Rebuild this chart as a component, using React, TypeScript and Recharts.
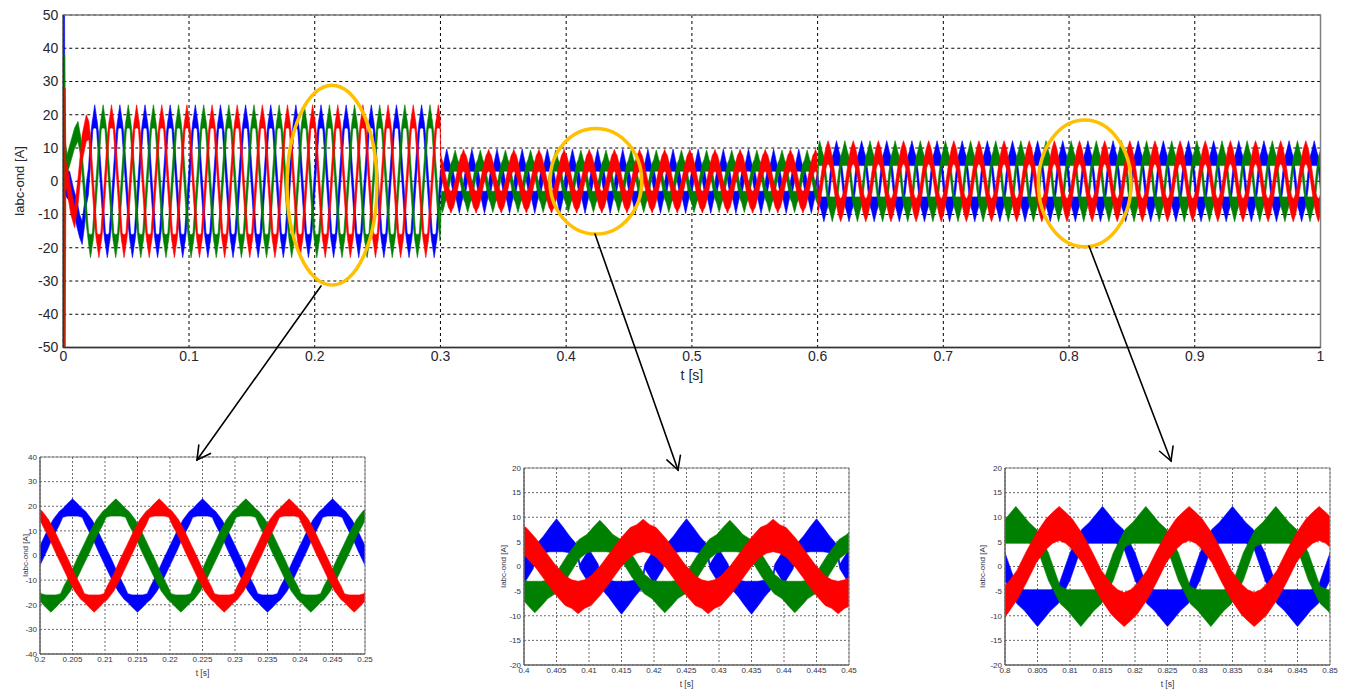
import React from 'react';
import { ComposedChart, Area, XAxis, YAxis, CartesianGrid, ReferenceArea } from 'recharts';

const BLUE = '#0000FF';
const GREEN = '#008000';
const RED = '#FF0000';
const ORANGE = '#FFC000';

// ---- Waveform shapes: one 20 ms cycle, [low, high] band edges (A) ----
// Window 1 (0.02–0.3 s): all three phases share this shape (peak at 5 ms)
const W1_T = [0, 1, 2, 3, 3.5, 4.2, 5, 5.8, 6.5, 7, 8, 9, 10, 11, 12, 13, 13.5, 14.2, 15, 15.8, 16.5, 17, 18, 19];
const W1_LO = [-4, 1.5, 7.5, 12.5, 15.5, 16, 16, 16, 15.5, 12.5, 7.5, 1.5, -4, -9.5, -14.5, -18, -19, -21, -23, -21, -19, -18, -14.5, -9.5];
const W1_HI = [4, 9.5, 14.5, 18, 19, 21, 23, 21, 19, 18, 14.5, 9.5, 4, -1.5, -7.5, -12.5, -15.5, -16, -16, -16, -15.5, -12.5, -7.5, -1.5];

// Window 2 (0.3–0.6 s)
const W2B_T = [0, 1.4, 1.9, 3, 4, 5, 6, 7, 8.1, 8.6, 10, 11.4, 11.9, 13, 14, 15, 16, 17, 18.1, 18.6];
const W2B_LO = [-3.5, -0.5, 2.8, 2.8, 3, 3, 3, 2.8, 2.8, -0.5, -3.5, -0.5, -4.5, -6.2, -8, -9.7, -8, -6.2, -4.5, -0.5];
const W2B_HI = [3.5, 0.5, 4.5, 6.2, 8, 9.7, 8, 6.2, 4.5, 0.5, 3.5, 0.5, -2.8, -2.8, -3, -3, -3, -2.8, -2.8, 0.5];

const W2G_T = [0, 1.8, 3, 4, 5, 6, 7, 8.2, 10, 11.8, 13, 14, 15, 16, 17, 18.2];
const W2G_LO = [-2.3, 1.5, 2.8, 3, 3, 3, 2.8, 1.5, -2.3, -5.5, -6.5, -8, -9.4, -8, -6.5, -5.5];
const W2G_HI = [2.3, 5.5, 6.5, 8, 9.4, 8, 6.5, 5.5, 2.3, -1.5, -2.8, -3, -3, -3, -2.8, -1.5];

const W2R_T = [0, 1.5, 3, 4, 5, 6, 7, 8.5, 10, 11.5, 13, 14, 15, 16, 17, 18.5];
const W2R_LO = [-3, -0.3, 1.9, 2.7, 3, 2.7, 1.9, -0.3, -3, -5.7, -7.9, -8.5, -9.6, -8.5, -7.9, -5.7];
const W2R_HI = [3, 5.7, 7.9, 8.5, 9.6, 8.5, 7.9, 5.7, 3, 0.3, -1.9, -2.7, -3, -2.7, -1.9, 0.3];

// Window 3 (0.6–1 s)
const W3B_T = [0, 1.8, 3, 4, 5, 6, 7, 8.2, 10, 11.8, 13, 14, 15, 16, 17, 18.2];
const W3B_LO = [-2.8, 4, 4.7, 4.7, 4.7, 4.7, 4.7, 4, -2.8, -7.5, -9, -10.6, -12.2, -10.6, -9, -7.5];
const W3B_HI = [2.8, 7.5, 9, 10.6, 12.2, 10.6, 9, 7.5, 2.8, -4, -4.7, -4.7, -4.7, -4.7, -4.7, -4];

const W3R_T = [0, 1.5, 3, 4, 5, 6, 7, 8.5, 10, 11.5, 13, 14, 15, 16, 17, 18.5];
const W3R_LO = [-3.2, 0.8, 3.5, 4.7, 5.3, 4.7, 3.5, 0.8, -3.2, -6.8, -9.7, -11, -12.2, -11, -9.7, -6.8];
const W3R_HI = [3.2, 6.8, 9.7, 11, 12.2, 11, 9.7, 6.8, 3.2, -0.8, -3.5, -4.7, -5.3, -4.7, -3.5, -0.8];

// Phase positions of each shape inside the 20 ms cycle (ms), read from the peak times
const OFFSET_W1 = [0, 6.667, 13.333];
const OFFSET_W2 = [0, 6.667, 13.333];
const OFFSET_W3 = [10, 16.667, 3.333];

// Start-up transient 0–20 ms
const A_START_T = [0.2, 1.0, 1.4, 3, 5, 8, 11, 13, 15, 17, 18.5];
const A_START_LO = [-4, -4, -4, -5, -6, -9, -14, -17, -19, -13, -7];
const A_START_HI = [50, 50, 4, 3, 3, -2, -6, -10, -12, -6, 0];
const B_START_T = [0.4, 1.2, 1.6, 3, 6, 9, 11.7, 14, 16, 18];
const B_START_LO = [-50, -50, 3, 2, 6, 10, 12, 7, -3, -12];
const B_START_HI = [38, 38, 12, 8, 12, 16, 18, 13, 4, -5];
const C_START_T = [0.8, 1.6, 2.0, 3, 6, 9, 12, 15, 18.3];
const C_START_LO = [-50, -50, -2, -3, -10, -14, -6, 6, 12];
const C_START_HI = [28, 28, 6, 5, -2, -8, 2, 14, 20];

// Segment limits (ms)
const SEG_EDGES = [20, 300, 600, 1000];

// Axis ticks
const MAIN_X_TICKS = [0, 0.1, 0.2, 0.3, 0.4, 0.5, 0.6, 0.7, 0.8, 0.9, 1];
const MAIN_Y_TICKS = [-50, -40, -30, -20, -10, 0, 10, 20, 30, 40, 50];
const Z1_X_TICKS = [0.2, 0.205, 0.21, 0.215, 0.22, 0.225, 0.23, 0.235, 0.24, 0.245, 0.25];
const Z1_Y_TICKS = [-40, -30, -20, -10, 0, 10, 20, 30, 40];
const Z2_X_TICKS = [0.4, 0.405, 0.41, 0.415, 0.42, 0.425, 0.43, 0.435, 0.44, 0.445, 0.45];
const Z3_X_TICKS = [0.8, 0.805, 0.81, 0.815, 0.82, 0.825, 0.83, 0.835, 0.84, 0.845, 0.85];
const Z23_Y_TICKS = [-20, -15, -10, -5, 0, 5, 10, 15, 20];

// Annotations
const ELLIPSES = [
  { x1: 0.178, x2: 0.2495, y1: -31.2, y2: 28.9 },
  { x1: 0.3871, x2: 0.4601, y1: -15.9, y2: 15.9 },
  { x1: 0.7756, x2: 0.8493, y1: -19.7, y2: 18.4 },
];
const ARROWS = [
  { x1: 321, y1: 286, x2: 197, y2: 460 },
  { x1: 595, y1: 234, x2: 678, y2: 470 },
  { x1: 1089, y1: 246, x2: 1171, y2: 461 },
];

type Pt = { t: number; v: [number, number] };
type Shape = { T: number[]; LO: number[]; HI: number[] };

const SHAPES_W1: Shape[] = [0, 1, 2].map(() => ({ T: W1_T, LO: W1_LO, HI: W1_HI }));
const SHAPES_W2: Shape[] = [
  { T: W2B_T, LO: W2B_LO, HI: W2B_HI },
  { T: W2G_T, LO: W2G_LO, HI: W2G_HI },
  { T: W2R_T, LO: W2R_LO, HI: W2R_HI },
];
const SHAPES_W3: Shape[] = [
  { T: W3B_T, LO: W3B_LO, HI: W3B_HI },
  { T: W3B_T, LO: W3B_LO, HI: W3B_HI },
  { T: W3R_T, LO: W3R_LO, HI: W3R_HI },
];
const STARTS: Shape[] = [
  { T: A_START_T, LO: A_START_LO, HI: A_START_HI },
  { T: B_START_T, LO: B_START_LO, HI: B_START_HI },
  { T: C_START_T, LO: C_START_LO, HI: C_START_HI },
];

function tile(s: Shape, off: number, fromMs: number, toMs: number, inclEnd: boolean): Pt[] {
  const out: Pt[] = [];
  const k0 = Math.floor(fromMs / 20) - 2;
  const k1 = Math.ceil(toMs / 20) + 1;
  for (let k = k0; k <= k1; k++) {
    for (let i = 0; i < s.T.length; i++) {
      const tm = 20 * k + off + s.T[i];
      if (tm >= fromMs && (inclEnd ? tm <= toMs : tm < toMs)) {
        out.push({ t: tm / 1000, v: [s.LO[i], s.HI[i]] });
      }
    }
  }
  return out;
}

function sortPts(p: Pt[]): Pt[] {
  return p.sort((a, b) => a.t - b.t);
}

function mainSeries(ph: number): Pt[] {
  const st = STARTS[ph];
  const pts: Pt[] = st.T.map((t, i) => ({ t: t / 1000, v: [st.LO[i], st.HI[i]] as [number, number] }));
  pts.push(...tile(SHAPES_W1[ph], OFFSET_W1[ph], SEG_EDGES[0], SEG_EDGES[1], false));
  pts.push(...tile(SHAPES_W2[ph], OFFSET_W2[ph], SEG_EDGES[1], SEG_EDGES[2], false));
  pts.push(...tile(SHAPES_W3[ph], OFFSET_W3[ph], SEG_EDGES[2], SEG_EDGES[3] + 3, true));
  return sortPts(pts);
}

function zoomSeries(shapes: Shape[], offs: number[], ph: number, fromS: number, toS: number): Pt[] {
  return sortPts(tile(shapes[ph], offs[ph], fromS * 1000 - 3, toS * 1000 + 3, true));
}

const MAIN = [0, 1, 2].map(mainSeries);
const Z1 = [0, 1, 2].map((p) => zoomSeries(SHAPES_W1, OFFSET_W1, p, 0.2, 0.25));
const Z2 = [0, 1, 2].map((p) => zoomSeries(SHAPES_W2, OFFSET_W2, p, 0.4, 0.45));
const Z3 = [0, 1, 2].map((p) => zoomSeries(SHAPES_W3, OFFSET_W3, p, 0.8, 0.85));

const COLORS = [BLUE, GREEN, RED];
const fmt = (v: number) => String(Number(v.toFixed(3)));
const FONT = '"Liberation Sans", Arial, Helvetica, sans-serif';

function MainChart() {
  return (
    <div style={{ position: 'absolute', left: 0, top: 0 }}>
      <ComposedChart width={1348} height={403} margin={{ top: 15, right: 27.5, left: 0, bottom: 0 }}>
        <CartesianGrid stroke="#000" strokeDasharray="3 3" strokeWidth={1} />
        <XAxis
          type="number"
          dataKey="t"
          domain={[0, 1]}
          ticks={MAIN_X_TICKS}
          interval={0}
          allowDataOverflow
          tickFormatter={fmt}
          height={55.5}
          tickLine={false}
          tickSize={3}
          tickMargin={1}
          axisLine={{ stroke: '#333', strokeWidth: 1.5 }}
          tick={{ fill: '#262630', fontSize: 14 }}
          label={{ value: 't [s]', position: 'center', style: { fill: '#262630', fontSize: 14 } }}
        />
        <YAxis
          type="number"
          domain={[-50, 50]}
          ticks={MAIN_Y_TICKS}
          interval={0}
          allowDataOverflow
          width={63.3}
          tickLine={false}
          tickSize={3}
          tickMargin={2}
          axisLine={{ stroke: '#333', strokeWidth: 1.5 }}
          tick={{ fill: '#262630', fontSize: 14 }}
          label={{ value: 'Iabc-ond [A]', angle: -90, position: 'center', dx: -12, style: { fill: '#262630', fontSize: 13, textAnchor: 'middle' } }}
        />
        {MAIN.map((d, i) => (
          <Area
            key={i}
            data={d}
            type="linear"
            dataKey="v"
            stroke={COLORS[i]}
            strokeWidth={0.6}
            fill={COLORS[i]}
            fillOpacity={1}
            dot={false}
            activeDot={false}
            isAnimationActive={false}
          />
        ))}
        <ReferenceArea x1={0} x2={1} y1={-50} y2={50} fill="none" fillOpacity={0} stroke="#808080" strokeWidth={1.5} />
        {ELLIPSES.map((e, i) => (
          <ReferenceArea
            key={'e' + i}
            x1={e.x1}
            x2={e.x2}
            y1={e.y1}
            y2={e.y2}
            ifOverflow="visible"
            shape={(p: any) => (
              <ellipse
                cx={p.x + p.width / 2}
                cy={p.y + p.height / 2}
                rx={Math.abs(p.width) / 2}
                ry={Math.abs(p.height) / 2}
                fill="none"
                stroke={ORANGE}
                strokeWidth={3.5}
              />
            )}
          />
        ))}
      </ComposedChart>
    </div>
  );
}

type ZoomProps = {
  left: number;
  top: number;
  height: number;
  series: Pt[][];
  xDomain: [number, number];
  xTicks: number[];
  yDomain: [number, number];
  yTicks: number[];
  yLabelDx: number;
  xLabelDy: number;
};

function ZoomChart({ left, top, height, series, xDomain, xTicks, yDomain, yTicks, yLabelDx, xLabelDy }: ZoomProps) {
  const xAxisH = height - 10 - 197;
  return (
    <div style={{ position: 'absolute', left, top }}>
      <ComposedChart width={375} height={height} margin={{ top: 10, right: 10, left: 0, bottom: 0 }}>
        <CartesianGrid stroke="#444" strokeDasharray="2 2" strokeWidth={0.8} />
        <XAxis
          type="number"
          dataKey="t"
          domain={xDomain}
          ticks={xTicks}
          interval={0}
          allowDataOverflow
          tickFormatter={fmt}
          height={xAxisH}
          tickLine={false}
          tickSize={2}
          tickMargin={0}
          axisLine={{ stroke: '#555', strokeWidth: 1 }}
          tick={{ fill: '#33334a', fontSize: 8 }}
          label={{ value: 't [s]', position: 'center', dy: xLabelDy, style: { fill: '#33334a', fontSize: 8.5 } }}
        />
        <YAxis
          type="number"
          domain={yDomain}
          ticks={yTicks}
          interval={0}
          allowDataOverflow
          width={40}
          tickLine={false}
          tickSize={2}
          tickMargin={1}
          axisLine={{ stroke: '#555', strokeWidth: 1 }}
          tick={{ fill: '#33334a', fontSize: 8 }}
          label={{ value: 'Iabc-ond [A]', angle: -90, position: 'center', dx: yLabelDx, style: { fill: '#33334a', fontSize: 8, textAnchor: 'middle' } }}
        />
        {series.map((d, i) => (
          <Area
            key={i}
            data={d}
            type="linear"
            dataKey="v"
            stroke={COLORS[i]}
            strokeWidth={0.6}
            fill={COLORS[i]}
            fillOpacity={1}
            dot={false}
            activeDot={false}
            isAnimationActive={false}
          />
        ))}
        <ReferenceArea x1={xDomain[0]} x2={xDomain[1]} y1={yDomain[0]} y2={yDomain[1]} fill="none" fillOpacity={0} stroke="#888" strokeWidth={1} />
      </ComposedChart>
    </div>
  );
}

function Arrows() {
  return (
    <svg width={1348} height={692} style={{ position: 'absolute', left: 0, top: 0, pointerEvents: 'none' }}>
      {ARROWS.map((a, i) => {
        const ang = Math.atan2(a.y2 - a.y1, a.x2 - a.x1);
        const L = 15;
        const w = 0.5;
        const p1 = [a.x2 - L * Math.cos(ang - w), a.y2 - L * Math.sin(ang - w)];
        const p2 = [a.x2 - L * Math.cos(ang + w), a.y2 - L * Math.sin(ang + w)];
        return (
          <g key={i} stroke="#000" strokeWidth={1.6} fill="none" strokeLinecap="round">
            <line x1={a.x1} y1={a.y1} x2={a.x2} y2={a.y2} />
            <polyline points={`${p1[0]},${p1[1]} ${a.x2},${a.y2} ${p2[0]},${p2[1]}`} />
          </g>
        );
      })}
    </svg>
  );
}

export default function App() {
  return (
    <div
      style={{
        position: 'absolute',
        left: 0,
        top: 0,
        width: 1348,
        height: 692,
        overflow: 'hidden',
        background: '#fff',
        fontFamily: FONT,
      }}
    >
      <MainChart />
      <ZoomChart left={0} top={447} height={245} series={Z1} xDomain={[0.2, 0.25]} xTicks={Z1_X_TICKS} yDomain={[-40, 40]} yTicks={Z1_Y_TICKS} yLabelDx={5} xLabelDy={0} />
      <ZoomChart left={484} top={458} height={234} series={Z2} xDomain={[0.4, 0.45]} xTicks={Z2_X_TICKS} yDomain={[-20, 20]} yTicks={Z23_Y_TICKS} yLabelDx={-1} xLabelDy={5} />
      <ZoomChart left={965} top={458} height={234} series={Z3} xDomain={[0.8, 0.85]} xTicks={Z3_X_TICKS} yDomain={[-20, 20]} yTicks={Z23_Y_TICKS} yLabelDx={-3} xLabelDy={5} />
      <Arrows />
    </div>
  );
}
